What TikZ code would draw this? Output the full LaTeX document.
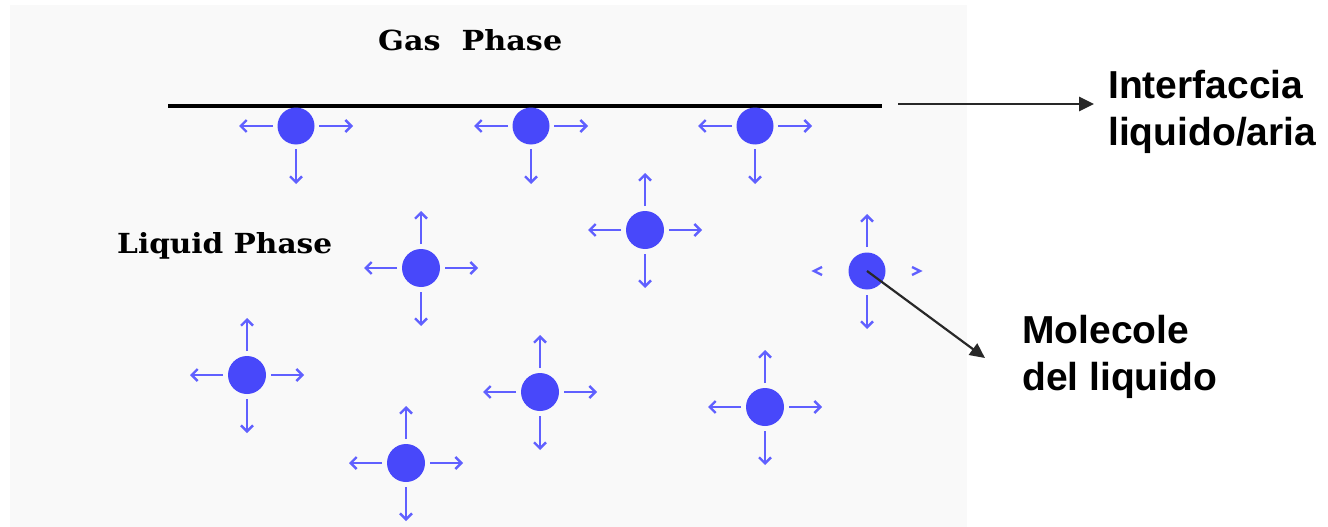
\documentclass[tikz,border=0pt]{standalone}
\usepackage{fontspec}
\setmainfont{Liberation Sans}
\newfontfamily\slab{DejaVu Serif}
\usetikzlibrary{arrows.meta}

\definecolor{panel}{RGB}{249,249,249}
\definecolor{molblue}{RGB}{72,72,250}
\definecolor{kickblue}{RGB}{96,96,255}
\definecolor{leader}{RGB}{40,40,40}

\tikzset{
  molecule/.style={circle,fill=molblue,draw=none,minimum size=38pt,inner sep=0pt},
  kick/.style={kickblue,line width=2.4pt,
    -{Straight Barb[length=6pt,width=12pt,line width=2.4pt]}},
  chevron/.style={kickblue,line width=2.4pt},
  phase/.style={inner sep=0pt,anchor=base west,font=\slab\bfseries},
  callout/.style={inner sep=0pt,anchor=base west,align=left,
    font=\fontsize{39}{47}\selectfont\bfseries},
  interface/.style={black,line width=4.5pt},
  leaderarrow/.style={leader,line width=2.6pt,-{Triangle[length=15pt,width=14pt]}},
}

\begin{document}
% one coordinate unit = one pixel, y grows downwards
\begin{tikzpicture}[x=1pt,y=-1pt]
  \useasboundingbox (0,0) rectangle (1328,527);
  \fill[white] (0,0) rectangle (1328,527);
  \fill[panel] (10,5) rectangle (967,527);

  % phase names
  \node[phase] (gas) at (378,51) {\resizebox{184pt}{21pt}{Gas\ \ Phase}};
  \node[phase] (liq) at (117,253) {\resizebox{215pt}{21pt}{Liquid Phase}};

  % liquid/air interface
  \coordinate (ifL) at (168,106);
  \coordinate (ifR) at (882,106);
  \draw[interface] (ifL) -- (ifR);

  % molecules at the surface: pulled sideways and down only
  \foreach \n/\x/\y in {a/296/126, b/531/126, c/755/126} {
    \node[molecule,minimum size=37pt] (s\n) at (\x,\y) {};
    \draw[kick] ([xshift=-23pt]s\n.center) -- ([xshift=-57pt]s\n.center);
    \draw[kick] ([xshift=23pt]s\n.center) -- ([xshift=57pt]s\n.center);
    \draw[kick] ([yshift=-23pt]s\n.center) -- ([yshift=-58pt]s\n.center);
  }

  % molecules in the bulk: pulled in all four directions
  \foreach \n/\x/\y in {a/645/230, b/421/268, c/247/375, d/540/392,
                        e/765/407, f/406/463} {
    \node[molecule] (b\n) at (\x,\y) {};
    \draw[kick] ([xshift=-24pt]b\n.center) -- ([xshift=-57pt]b\n.center);
    \draw[kick] ([xshift=24pt]b\n.center) -- ([xshift=57pt]b\n.center);
    \draw[kick] ([yshift=24pt]b\n.center) -- ([yshift=57pt]b\n.center);
    \draw[kick] ([yshift=-24pt]b\n.center) -- ([yshift=-58pt]b\n.center);
  }

  % the molecule pointed at by the callout
  \node[molecule,minimum size=37pt] (mk) at (867,271) {};
  \draw[kick] ([yshift=24pt]mk.center) -- ([yshift=57pt]mk.center);
  \draw[kick] ([yshift=-24pt]mk.center) -- ([yshift=-58pt]mk.center);
  \draw[chevron] ([shift={(-45pt,4pt)}]mk.center) -- ([shift={(-53pt,0pt)}]mk.center)
                 -- ([shift={(-45pt,-4pt)}]mk.center);
  \draw[chevron] ([shift={(45pt,4pt)}]mk.center) -- ([shift={(53pt,0pt)}]mk.center)
                 -- ([shift={(45pt,-4pt)}]mk.center);

  % callouts (base anchor sits on the last line)
  \node[callout] (lblif) at (1108,145) {Interfaccia\\liquido/aria};
  \node[callout] (lblmol) at (1022,390) {Molecole\\del liquido};

  \coordinate (ifA) at (898,104);
  \coordinate (ifB) at (1094,104);
  \draw[leaderarrow] (ifA) -- (ifB);

  \coordinate (molB) at (985,358);
  \draw[leaderarrow,line width=2.2pt] (mk.center) -- (molB);
\end{tikzpicture}
\end{document}
